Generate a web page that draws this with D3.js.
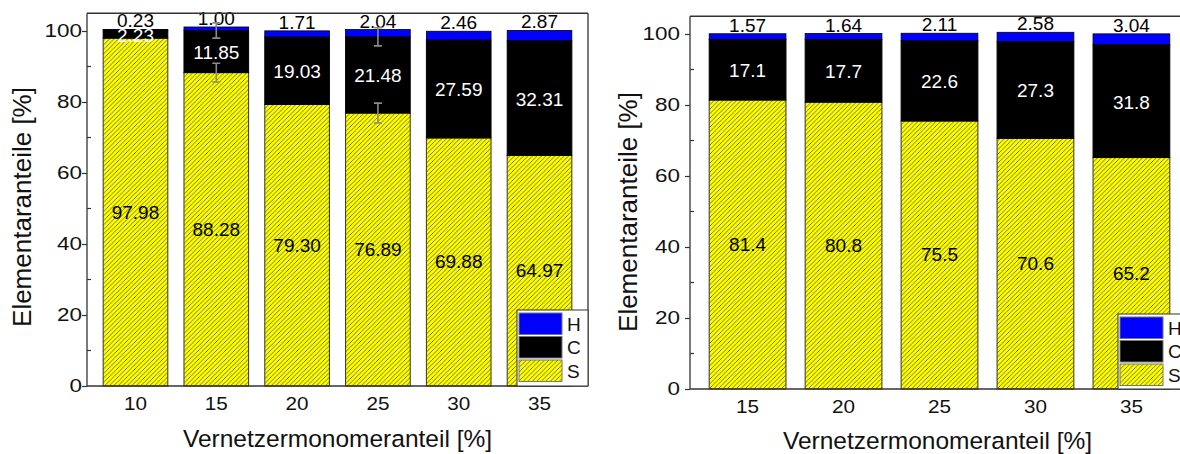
<!DOCTYPE html>
<html><head><meta charset="utf-8">
<script src="https://cdn.jsdelivr.net/npm/d3@7"></script>
<style>
html,body{margin:0;padding:0;background:#fff;}
svg{display:block;font-family:"Liberation Sans",Arial,sans-serif;}
</style></head>
<body>
<svg id="chart" width="1180" height="454"></svg>
<script>
// ---- data (left panel) ----
const catsL = ["10","15","20","25","30","35"];
const sL = [97.98, 88.28, 79.30, 76.89, 69.88, 64.97];
const cL = [2.23, 11.85, 19.03, 21.48, 27.59, 32.31];
const hL = [0.23, 1.00, 1.71, 2.04, 2.46, 2.87];
const errSL = [0, 2.65, 0, 2.8, 0, 0];
const errCL = [0, 2.15, 0, 2.55, 0, 0];
// ---- data (right panel) ----
const catsR = ["15","20","25","30","35"];
const sR = [81.4, 80.8, 75.5, 70.6, 65.2];
const cR = [17.1, 17.7, 22.6, 27.3, 31.8];
const hR = [1.57, 1.64, 2.11, 2.58, 3.04];
const errSR = [0, 0, 0, 0, 0];
const errCR = [0, 0, 0, 0, 0];
// ---- axis ticks ----
const yMajor = [0, 20, 40, 60, 80, 100];
const yMinor = [10, 30, 50, 70, 90];
const legendItems = ["H", "C", "S"];
const xTitle = "Vernetzermonomeranteil [%]";
const yTitle = "Elementaranteile [%]";

const svg = d3.select("#chart");
const defs = svg.append("defs");
const P = 4.5;
const pat = defs.append("pattern").attr("id","hatch").attr("patternUnits","userSpaceOnUse")
  .attr("width",P).attr("height",P);
pat.append("rect").attr("width",P).attr("height",P).attr("fill","#ffff00");
pat.append("path").attr("d",`M-1,1 L1,-1 M0,${P} L${P},0 M${P-1},${P+1} L${P+1},${P-1}`)
  .attr("stroke","#3a3a1a").attr("stroke-width",0.7);

const colors = {H:"#0000ff", C:"#000000", S:"url(#hatch)"};

function stretch(sel, perChar){
  sel.attr("textLength", function(){ return this.textContent.length*perChar; })
     .attr("lengthAdjust","spacingAndGlyphs");
}

function panel(o){
  const g = svg.append("g");
  const x = d3.scaleBand().domain(o.cats).range([o.x0, o.x1]).paddingInner(0.2).paddingOuter(0.2);
  const y = d3.scaleLinear().domain([0,105]).range([o.y0, o.y1]);
  const rows = o.cats.map((c,i)=>({c, s:o.s[i], cc:o.c[i], h:o.h[i], es:o.es[i], ec:o.ec[i], sDig:o.sDig, hDig:o.hDig}));
  // bars
  const bars = g.selectAll("g.bar").data(rows).join("g");
  bars.append("rect").attr("x",d=>x(d.c)).attr("width",x.bandwidth())
    .attr("y",d=>y(d.s)).attr("height",d=>y(0)-y(d.s))
    .attr("fill",colors.S).attr("stroke","#333").attr("stroke-width",1);
  bars.append("rect").attr("x",d=>x(d.c)).attr("width",x.bandwidth())
    .attr("y",d=>y(d.s+d.cc)).attr("height",d=>y(d.s)-y(d.s+d.cc))
    .attr("fill",colors.C).attr("stroke","#000").attr("stroke-width",1);
  bars.append("rect").attr("x",d=>x(d.c)).attr("width",x.bandwidth())
    .attr("y",d=>y(d.s+d.cc+d.h)).attr("height",d=>y(d.s+d.cc)-y(d.s+d.cc+d.h))
    .attr("fill",colors.H).attr("stroke","#000").attr("stroke-width",0.8);
  // labels
  bars.append("text").attr("x",d=>x(d.c)+x.bandwidth()/2).attr("y",d=>y(d.s/2))
    .attr("text-anchor","middle").attr("dominant-baseline","central")
    .attr("font-size",19).attr("fill","#000").text(d=>d.s.toFixed(d.sDig));
  bars.append("text").attr("x",d=>x(d.c)+x.bandwidth()/2).attr("y",d=>y(d.s+d.cc/2)+1)
    .attr("text-anchor","middle").attr("dominant-baseline","central")
    .attr("font-size",19).attr("fill","#fff").text(d=>d.cc.toFixed(d.sDig));
  bars.append("text").attr("x",d=>x(d.c)+x.bandwidth()/2).attr("y",d=>y(d.s+d.cc+d.h)-2)
    .attr("text-anchor","middle")
    .attr("font-size",19).attr("fill","#000").text(d=>d.h.toFixed(d.hDig));
  // error bars
  const eb = (val, err) => rows.filter(d=>err(d)>0).forEach(d=>{
    const cx = x(d.c)+x.bandwidth()/2, v = val(d), e = err(d);
    const p = d3.path();
    p.moveTo(cx, y(v-e)); p.lineTo(cx, y(v+e));
    p.moveTo(cx-4, y(v-e)); p.lineTo(cx+4, y(v-e));
    p.moveTo(cx-4, y(v+e)); p.lineTo(cx+4, y(v+e));
    g.append("path").attr("d",p.toString()).attr("stroke","#8a8a8a").attr("stroke-width",1.6).attr("fill","none");
  });
  eb(d=>d.s, d=>d.es);
  eb(d=>d.s+d.cc, d=>d.ec);
  // axes frame
  g.append("line").attr("x1",o.x0).attr("x2",o.x1).attr("y1",y(105)).attr("y2",y(105)).attr("stroke","#333").attr("stroke-width",1.3);
  g.append("line").attr("x1",o.x1).attr("x2",o.x1).attr("y1",y(105)).attr("y2",y(0)).attr("stroke","#333").attr("stroke-width",1.3);
  const yAx = g.append("g").attr("transform",`translate(${o.x0},0)`)
    .call(d3.axisLeft(y).tickValues(yMajor).tickSize(5).tickPadding(o.tickPad).tickFormat(d3.format("d")));
  yAx.select(".domain").attr("stroke","#333").attr("stroke-width",1.3).attr("d",`M0,${y(105)}V${y(0)}`);
  yAx.selectAll(".tick line").attr("stroke","#333").attr("stroke-width",1.2);
  yAx.selectAll(".tick text").attr("font-size",18.5).attr("font-family","Liberation Sans, Arial, sans-serif").attr("fill","#111")
    .call(stretch, 12.5);
  g.selectAll("line.minor").data(yMinor).join("line").attr("class","minor")
    .attr("x1",o.x0).attr("x2",o.x0+4).attr("y1",d=>y(d)).attr("y2",d=>y(d)).attr("stroke","#333").attr("stroke-width",1.2);
  const xAx = g.append("g").attr("transform",`translate(0,${y(0)})`)
    .call(d3.axisBottom(x).tickSize(0).tickPadding(11));
  xAx.select(".domain").attr("stroke","#333").attr("stroke-width",1.3).attr("d",`M${o.x0},0H${o.x1}`);
  xAx.selectAll(".tick text").attr("font-size",18.5).attr("font-family","Liberation Sans, Arial, sans-serif").attr("fill","#111")
    .call(stretch, 11.5);
  // titles
  g.append("text").attr("x",(o.x0+o.x1)/2 + o.xtDx).attr("y",o.xtY).attr("text-anchor","middle")
    .attr("font-size",24.5).attr("fill","#111").text(xTitle);
  g.append("text").attr("transform",`translate(${o.ytX},${o.ytY}) rotate(-90)`).attr("text-anchor","middle")
    .attr("dominant-baseline","central").attr("font-size",26).attr("fill","#111").text(yTitle);
  // legend
  const lg = g.append("g");
  lg.append("rect").attr("x",o.lx).attr("y",o.ly).attr("width",o.x1-o.lx).attr("height",y(0)-o.ly)
    .attr("fill","#fff").attr("stroke","#333").attr("stroke-width",1);
  legendItems.forEach((k,i)=>{
    const yy = o.ly+3+i*23.5;
    lg.append("rect").attr("x",o.lx+2).attr("y",yy).attr("width",43).attr("height",21.5)
      .attr("fill",colors[k]).attr("stroke","#777").attr("stroke-width",1);
    lg.append("text").attr("x",o.lx+50).attr("y",yy+11).attr("dominant-baseline","central")
      .attr("font-size",19).attr("fill","#111").text(k);
  });
}

panel({cats:catsL, s:sL, c:cL, h:hL, es:errSL, ec:errCL, sDig:2, hDig:2,
  x0:87, x1:588, y0:386, y1:13.25, tickPad:0, xtY:447, xtDx:0, ytX:22, ytY:207, lx:517, ly:310});
panel({cats:catsR, s:sR, c:cR, h:hR, es:errSR, ec:errCR, sDig:1, hDig:2,
  x0:690, x1:1189, y0:389, y1:16.25, tickPad:5, xtY:449, xtDx:-2, ytX:628, ytY:212, lx:1118, ly:314});
</script>
</body></html>
